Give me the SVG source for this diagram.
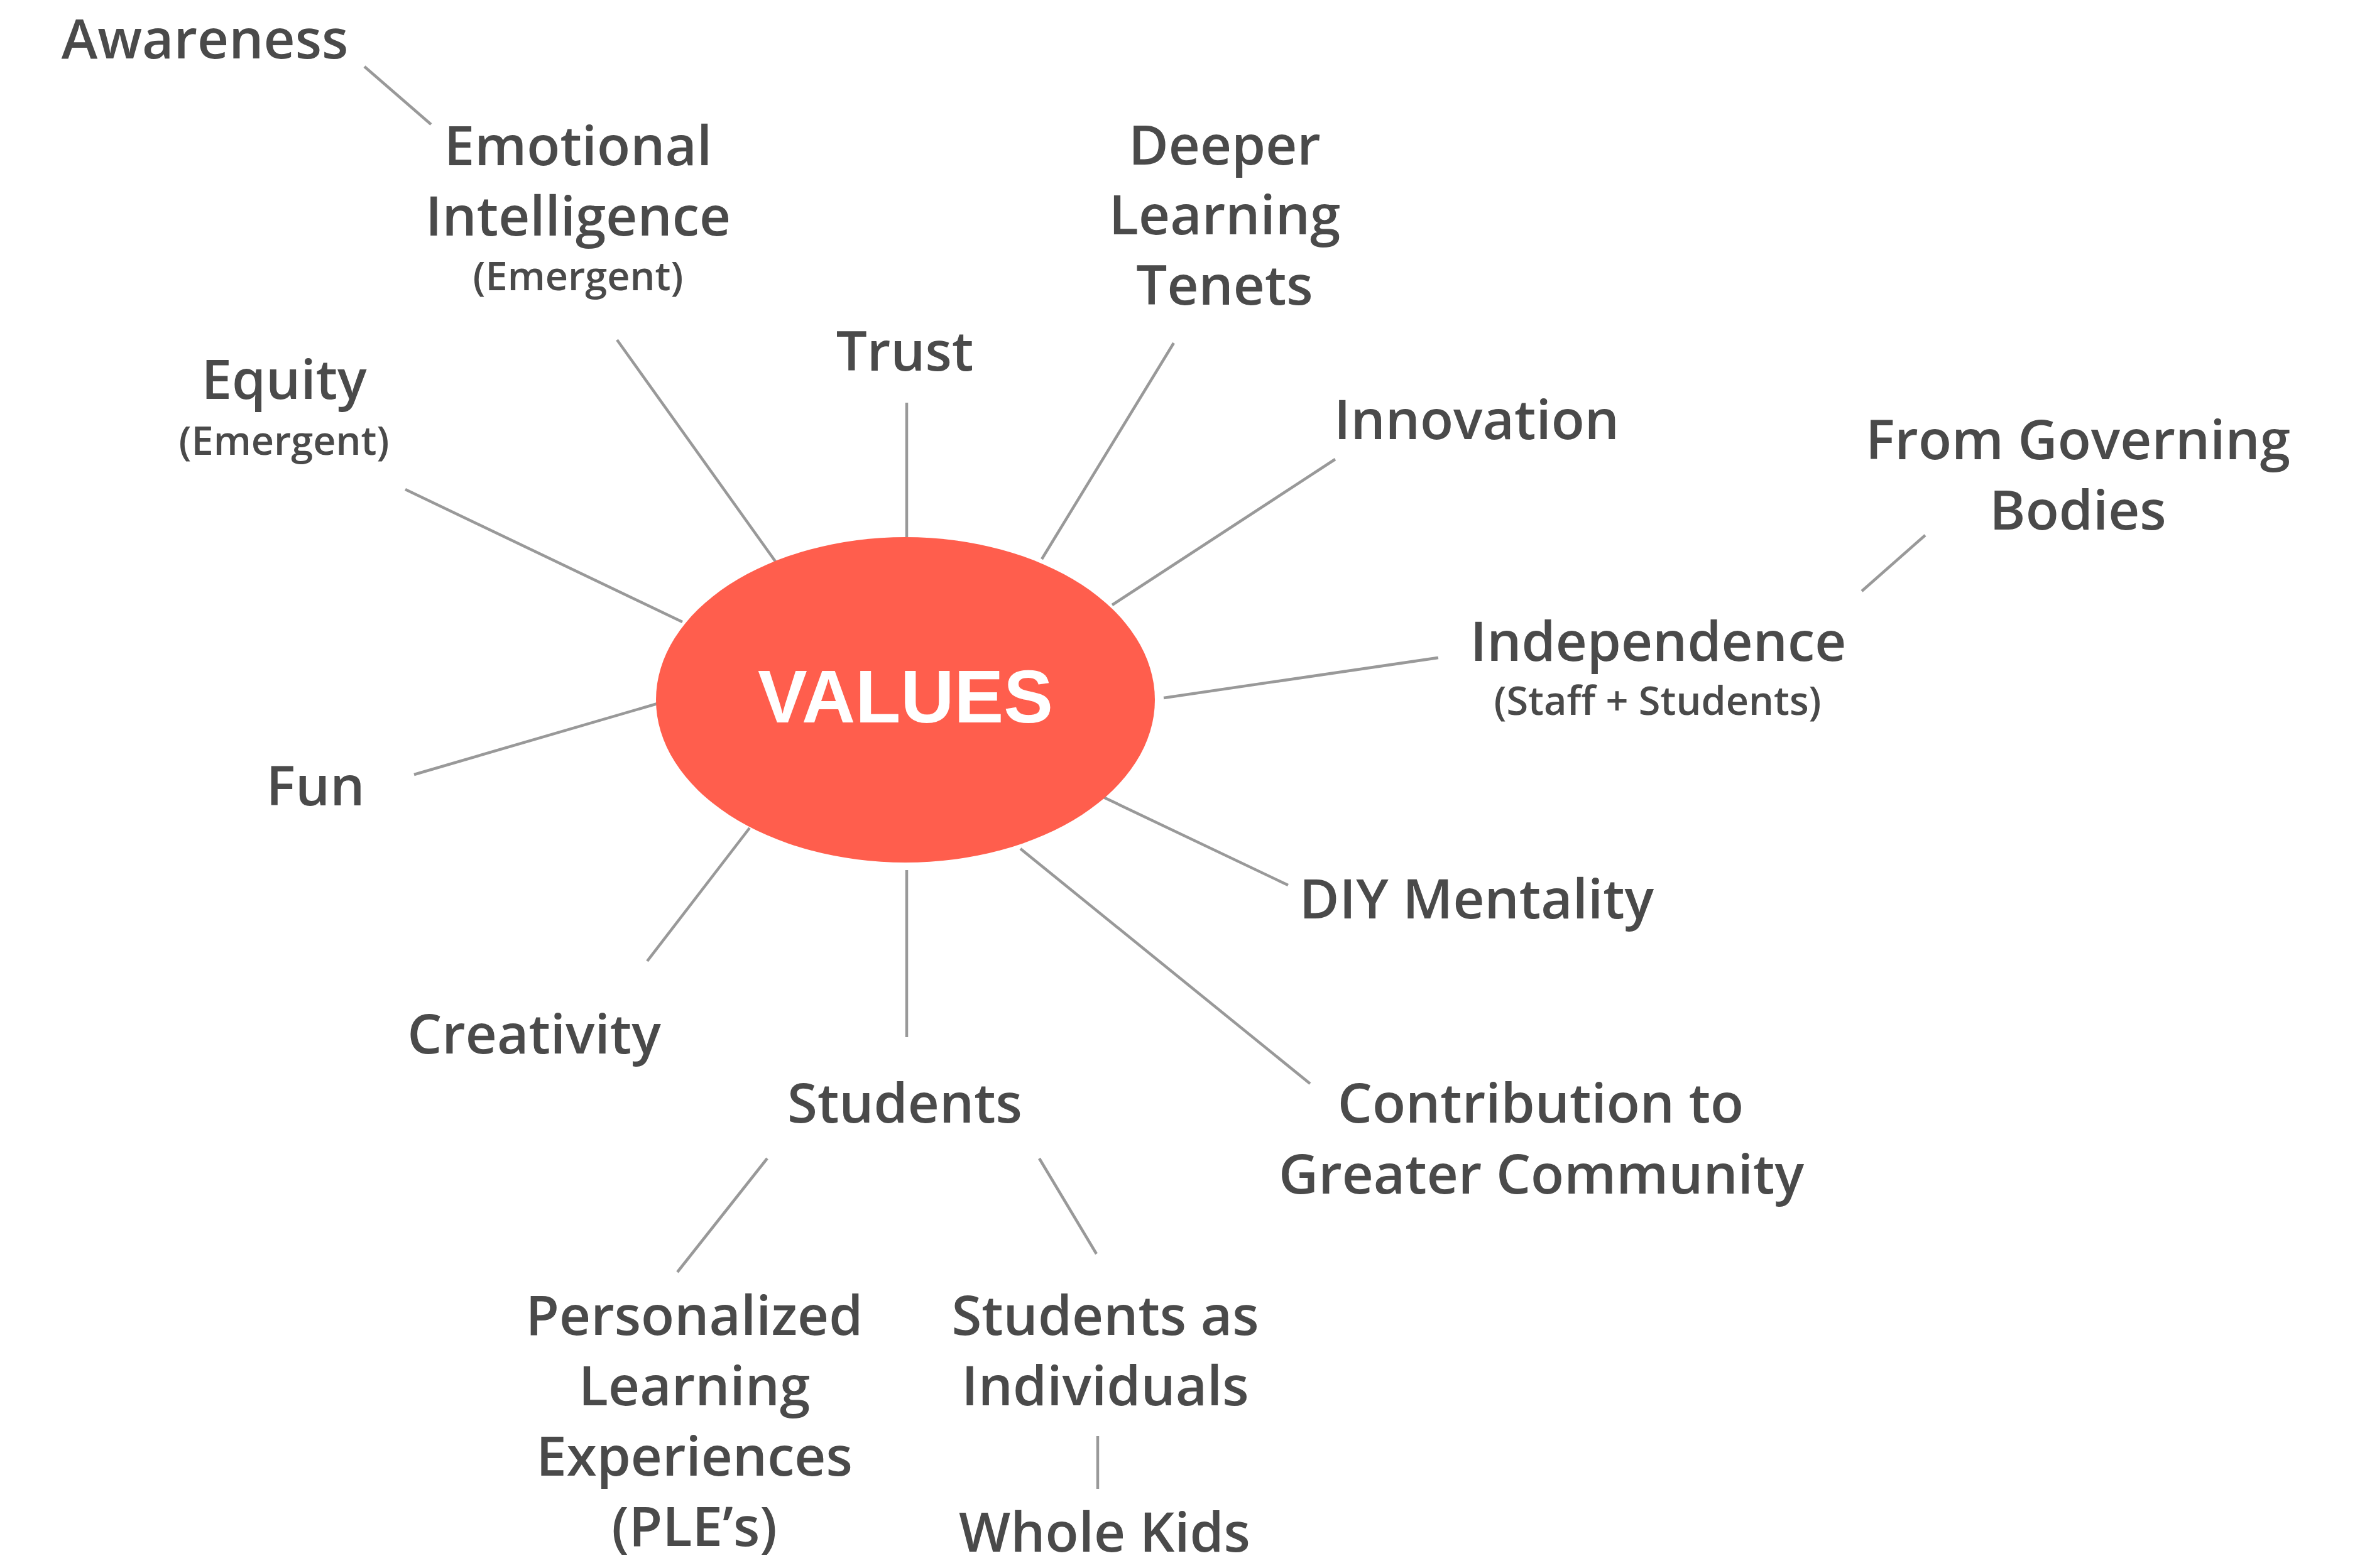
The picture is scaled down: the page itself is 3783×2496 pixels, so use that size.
<svg xmlns="http://www.w3.org/2000/svg" width="3783" height="2496" viewBox="0 0 3783 2496">
<style>
.t{font-family:"Open Sans","Noto Sans",sans-serif;font-weight:600;font-size:87px;fill:#4a4a4a;text-anchor:middle}
.s{font-size:63px}
.c{stroke:#999999;stroke-width:4.5;fill:none}
</style>
<rect width="3783" height="2496" fill="#ffffff"/>
<g id="connectors">
<line class="c" x1="580" y1="106" x2="686" y2="198"/>
<line class="c" x1="982" y1="541" x2="1235" y2="895"/>
<line class="c" x1="1443" y1="641" x2="1443" y2="855"/>
<line class="c" x1="1868" y1="546" x2="1658" y2="890"/>
<line class="c" x1="2125" y1="731" x2="1770" y2="963"/>
<line class="c" x1="645" y1="779" x2="1086" y2="990"/>
<line class="c" x1="2289" y1="1047" x2="1852" y2="1111"/>
<line class="c" x1="3064" y1="852" x2="2963" y2="941"/>
<line class="c" x1="659" y1="1233" x2="1060" y2="1116"/>
<line class="c" x1="2050" y1="1409" x2="1731" y2="1257"/>
<line class="c" x1="1030" y1="1530" x2="1193" y2="1318"/>
<line class="c" x1="1443" y1="1385" x2="1443" y2="1651"/>
<line class="c" x1="2085" y1="1725" x2="1624" y2="1351"/>
<line class="c" x1="1221" y1="1844" x2="1078" y2="2025"/>
<line class="c" x1="1654" y1="1844" x2="1745" y2="1996"/>
<line class="c" x1="1747" y1="2286" x2="1747" y2="2370"/>
</g>
<g id="values">
<ellipse cx="1441" cy="1114" rx="397" ry="259" fill="#ff5e4d"/>
<text x="1441" y="1150" font-family="'Liberation Sans',Arial,sans-serif" font-weight="700" font-size="118" fill="#ffffff" text-anchor="middle">VALUES</text>
</g>
<g id="awareness"><text class="t" x="326" y="93">Awareness</text></g>
<g id="emotional-intelligence">
<text class="t" x="920" y="263">Emotional</text>
<text class="t" x="920" y="375">Intelligence</text>
<text class="t s" x="920" y="462">(Emergent)</text>
</g>
<g id="equity">
<text class="t" x="452" y="635">Equity</text>
<text class="t s" x="452" y="724">(Emergent)</text>
</g>
<g id="trust"><text class="t" x="1440" y="590">Trust</text></g>
<g id="deeper-learning">
<text class="t" x="1949" y="262">Deeper</text>
<text class="t" x="1949" y="373">Learning</text>
<text class="t" x="1949" y="485">Tenets</text>
</g>
<g id="innovation"><text class="t" x="2350" y="699">Innovation</text></g>
<g id="governing">
<text class="t" x="3307" y="731">From Governing</text>
<text class="t" x="3307" y="843">Bodies</text>
</g>
<g id="independence">
<text class="t" x="2639" y="1052">Independence</text>
<text class="t s" x="2638" y="1138">(Staff + Students)</text>
</g>
<g id="fun"><text class="t" x="502" y="1282">Fun</text></g>
<g id="diy"><text class="t" x="2350" y="1462">DIY Mentality</text></g>
<g id="creativity"><text class="t" x="850" y="1677">Creativity</text></g>
<g id="students"><text class="t" x="1440" y="1787">Students</text></g>
<g id="contribution">
<text class="t" x="2452" y="1787">Contribution to</text>
<text class="t" x="2453" y="1900">Greater Community</text>
</g>
<g id="ple">
<text class="t" x="1105" y="2125">Personalized</text>
<text class="t" x="1105" y="2237">Learning</text>
<text class="t" x="1105" y="2349">Experiences</text>
<text class="t" x="1105" y="2461">(PLE’s)</text>
</g>
<g id="individuals">
<text class="t" x="1759" y="2125">Students as</text>
<text class="t" x="1759" y="2237">Individuals</text>
</g>
<g id="whole-kids"><text class="t" x="1758" y="2470">Whole Kids</text></g>
</svg>
